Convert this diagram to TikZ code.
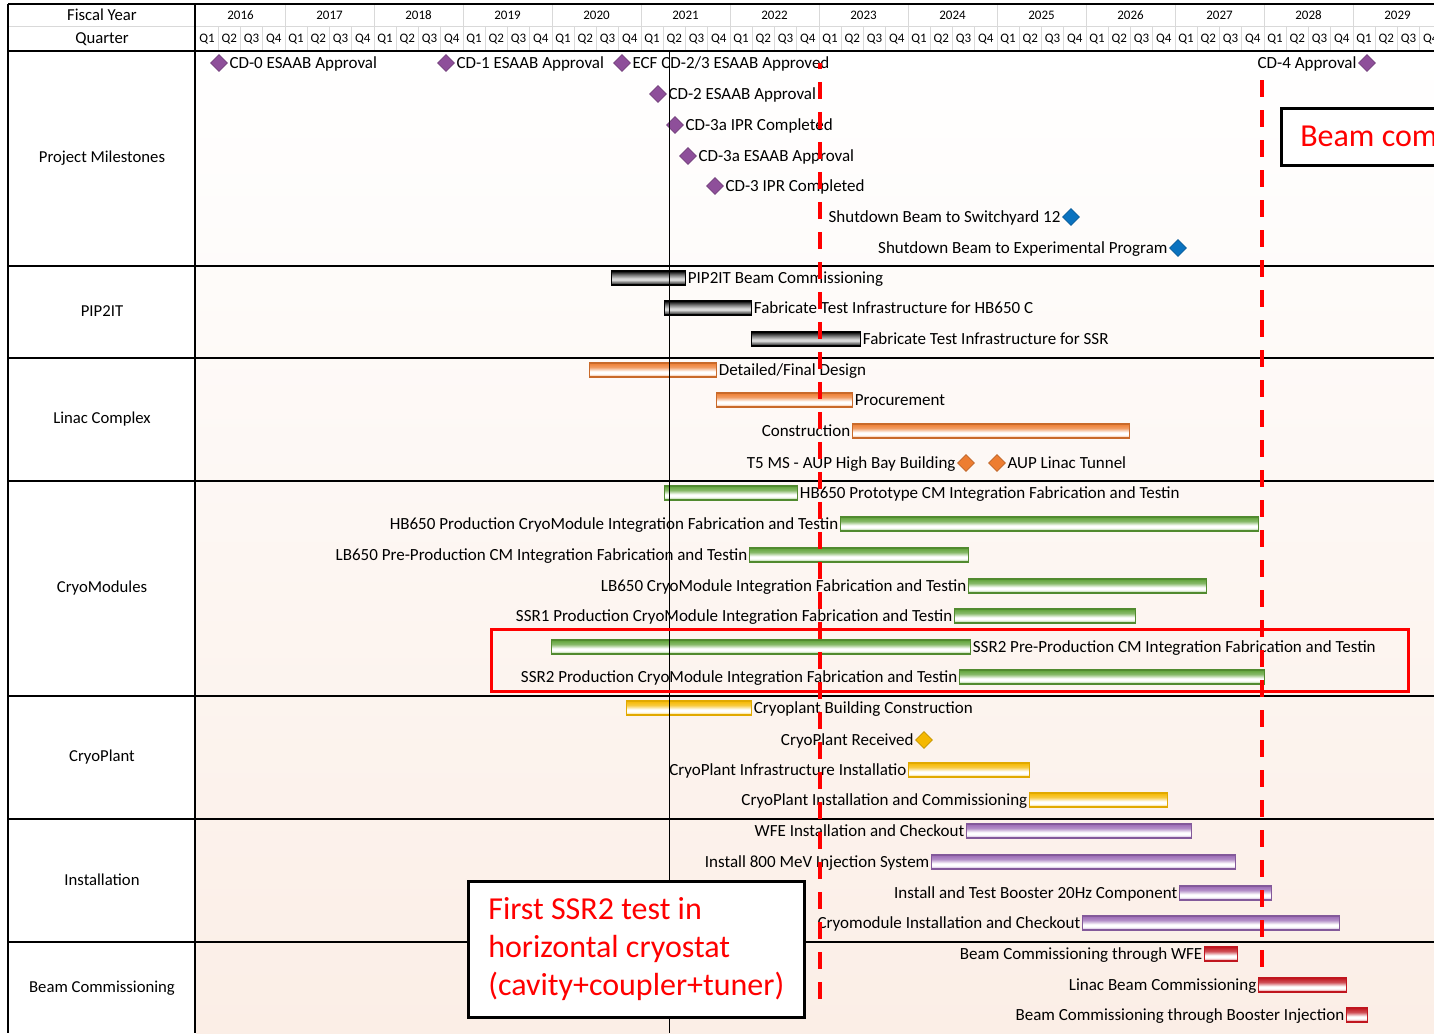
\documentclass[tikz,border=0pt]{standalone}
\usepackage{fontspec}
\setmainfont{Carlito}
\usetikzlibrary{shapes.geometric}
\definecolor{msPurple}{HTML}{8E4F9A}
\definecolor{msBlue}{HTML}{0A72BF}
\definecolor{cOrange}{HTML}{ED7D31}
\definecolor{cGreen}{HTML}{5FA237}
\definecolor{cGold}{HTML}{F5B800}
\definecolor{cPurple}{HTML}{9A69B5}
\definecolor{cRed}{HTML}{C0151E}
\definecolor{gridGray}{HTML}{D9D9D9}
\definecolor{bgPeach}{HTML}{FBEEE6}
\newcommand\mkshade[2]{\pgfdeclareverticalshading{#1}{100bp}{color(0bp)=(#2!65); color(25bp)=(#2!65); color(37bp)=(white); color(45bp)=(white); color(60bp)=(#2!75); color(75bp)=(#2); color(100bp)=(#2)}}
\mkshade{shOrange}{cOrange}
\mkshade{shGreen}{cGreen}
\mkshade{shGold}{cGold}
\mkshade{shPurple}{cPurple}
\mkshade{shRed}{cRed}
\pgfdeclareverticalshading{shBlack}{100bp}{color(0bp)=(black); color(25bp)=(black); color(33bp)=(black!60); color(44bp)=(white!88!black); color(50bp)=(white!80!black); color(62bp)=(black!55); color(75bp)=(black); color(100bp)=(black)}
\newcommand\barR[6]{\node[#2, minimum width={#4-#3}] (#1) at (#3,#5) {};\node[lblR] (#1-l) at (#1.east) {#6};}
\newcommand\barL[6]{\node[#2, minimum width={#4-#3}] (#1) at (#3,#5) {};\node[lblL] (#1-l) at (#1.west) {#6};}
\newcommand\msR[5]{\node[msd, fill=#2, draw=#2!80!black] (#1) at (#3,#4) {};\node[lblR] (#1-l) at (#1.east) {#5};}
\newcommand\msL[5]{\node[msd, fill=#2, draw=#2!80!black] (#1) at (#3,#4) {};\node[lblL] (#1-l) at (#1.west) {#5};}
\begin{document}
\begin{tikzpicture}[x=1pt,y=-1pt,
  lbl/.style={font=\fontsize{17}{20}\selectfont, inner xsep=1.5, inner ysep=0, text height=10.8, text depth=0},
  lblR/.style={lbl, anchor=west},
  lblL/.style={lbl, anchor=east},
  hdr/.style={font=\fontsize{13}{15}\selectfont, inner sep=0},
  sec/.style={font=\fontsize{16.7}{19}\selectfont, inner sep=0},
  gridline/.style={draw=gridGray, line width=1},
  blackline/.style={draw=black, line width=1.4},
  barbase/.style={minimum height=14, inner sep=0, anchor=west, line width=1.2, shade},
  blackbar/.style={barbase, draw=black, shading=shBlack},
  orangebar/.style={barbase, draw=cOrange!85!black, shading=shOrange},
  greenbar/.style={barbase, draw=cGreen!85!black, shading=shGreen},
  goldbar/.style={barbase, draw=cGold!92!black, shading=shGold},
  purplebar/.style={barbase, draw=cPurple!85!black, shading=shPurple},
  redbar/.style={barbase, draw=cRed, shading=shRed},
  msd/.style={shape=diamond, minimum width=17, minimum height=17, inner sep=0, aspect=1, line width=0.6},
  reddash/.style={draw=red, line width=3.6, dash pattern=on 17pt off 13pt},
  callout/.style={draw=black, fill=white, line width=2.6, text=red, font=\fontsize{32}{38}\selectfont}
]
\useasboundingbox (0,0) rectangle (1434,1033);
\fill[white] (0,0) rectangle (1434,1033);
% chart background
\fill[top color=white, bottom color=bgPeach] (196,51) rectangle (1434,1033);
% header grid
\draw[gridline] (8,27) -- (1434,27);
\foreach \i in {0,...,13} {
  \draw[gridline] ({196+89*(\i+1)},4) -- ({196+89*(\i+1)},51);
  \node[hdr] (yr\i) at ({196+89*\i+44.5},15) {\number\numexpr2016+\i\relax};
  \foreach \q in {1,...,4} {
    \draw[gridline] ({196+89*\i+22.25*\q},27) -- ({196+89*\i+22.25*\q},51);
    \node[hdr] (q\i-\q) at ({196+89*\i+22.25*\q-11.125},39) {Q\q};
  }
}
\node[sec] (hfy) at (102,15) {Fiscal Year};
\node[sec] (hq) at (102,39) {Quarter};
% frame lines
\draw[blackline] (8,4) -- (1434,4);
\draw[blackline] (8,4) -- (8,1033);
\draw[blackline] (195,4) -- (195,1033);
\foreach \yy in {51,266,358,481,696,819,942} {\draw[blackline] (8,\yy) -- (1434,\yy);}
% section labels
\node[sec] (s1) at (102,158) {Project Milestones};
\node[sec] (s2) at (102,311) {PIP2IT};
\node[sec] (s3) at (102,419) {Linac Complex};
\node[sec] (s4) at (102,588) {CryoModules};
\node[sec] (s5) at (102,757) {CryoPlant};
\node[sec] (s6) at (102,880) {Installation};
\node[sec] (s7) at (102,988) {Beam Commissioning};
% milestones
\msR{m0}{msPurple}{219}{63}{CD-0 ESAAB Approval}
\msR{m1}{msPurple}{446}{63}{CD-1 ESAAB Approval}
\msR{m2}{msPurple}{622}{63}{ECF CD-2/3 ESAAB Approved}
\msR{m3}{msPurple}{658}{94}{CD-2 ESAAB Approval}
\msR{m4}{msPurple}{675}{125}{CD-3a IPR Completed}
\msR{m5}{msPurple}{688}{156}{CD-3a ESAAB Approval}
\msR{m6}{msPurple}{715}{186}{CD-3 IPR Completed}
\msL{m7}{msBlue}{1071}{217}{Shutdown Beam to Switchyard 12}
\msL{m8}{msBlue}{1178}{248}{Shutdown Beam to Experimental Program}
\msL{m9}{msPurple}{1367}{63}{CD-4 Approval}
% PIP2IT
\barR{p1}{blackbar}{611}{685}{278}{PIP2IT Beam Commissioning}
\barR{p2}{blackbar}{664}{751}{308}{Fabricate Test Infrastructure for HB650 C}
\barR{p3}{blackbar}{751}{860}{339}{Fabricate Test Infrastructure for SSR}
% Linac Complex
\barR{l1}{orangebar}{589}{716}{370}{Detailed/Final Design}
\barR{l2}{orangebar}{716}{852}{400}{Procurement}
\barL{l3}{orangebar}{852}{1129}{431}{Construction}
\msL{l4}{cOrange}{966}{463}{T5 MS - AUP High Bay Building}
\msR{l5}{cOrange}{997}{463}{AUP Linac Tunnel}
% CryoModules
\barR{c1}{greenbar}{664}{797}{493}{HB650 Prototype CM Integration Fabrication and Testin}
\barL{c2}{greenbar}{840}{1258}{524}{HB650 Production CryoModule Integration Fabrication and Testin}
\barL{c3}{greenbar}{749}{968}{555}{LB650 Pre-Production CM Integration Fabrication and Testin}
\barL{c4}{greenbar}{968}{1206}{586}{LB650 CryoModule Integration Fabrication and Testin}
\barL{c5}{greenbar}{954}{1135}{616}{SSR1 Production CryoModule Integration Fabrication and Testin}
\barR{c6}{greenbar}{551}{970}{647}{SSR2 Pre-Production CM Integration Fabrication and Testin}
\barL{c7}{greenbar}{959}{1264}{677}{SSR2 Production CryoModule Integration Fabrication and Testin}
% CryoPlant
\barR{k1}{goldbar}{626}{751}{708}{Cryoplant Building Construction}
\msL{k2}{cGold}{924}{740}{CryoPlant Received}
\barL{k3}{goldbar}{908}{1029}{770}{CryoPlant Infrastructure Installatio}
\barL{k4}{goldbar}{1029}{1167}{800}{CryoPlant Installation and Commissioning}
% Installation
\barL{i1}{purplebar}{966}{1191}{831}{WFE Installation and Checkout}
\barL{i2}{purplebar}{931}{1235}{862}{Install 800 MeV Injection System}
\barL{i3}{purplebar}{1179}{1271}{893}{Install and Test Booster 20Hz Component}
\barL{i4}{purplebar}{1082}{1339}{923}{Cryomodule Installation and Checkout}
% Beam Commissioning
\barL{b1}{redbar}{1204}{1237}{954}{Beam Commissioning through WFE}
\barL{b2}{redbar}{1258}{1346}{985}{Linac Beam Commissioning}
\barL{b3}{redbar}{1346}{1367}{1015}{Beam Commissioning through Booster Injection}
% today line
\coordinate (t0) at (669,51);
\coordinate (t1) at (669,1033);
\draw[black, line width=0.9] (t0) -- (t1);
% red dashed markers
\coordinate (d1a) at (820,63);
\coordinate (d1b) at (820,1000);
\coordinate (d2a) at (1262,80);
\coordinate (d2b) at (1262,972);
\draw[reddash, dash phase=11pt] (d1a) -- (d1b);
\draw[reddash] (d2a) -- (d2b);
% highlight rectangle
\node[draw=red, line width=3, minimum width=917, minimum height=62, inner sep=0, anchor=north west] (hl) at (490,628) {};
% callouts
\node[callout, anchor=north west, minimum height=57, inner xsep=19, inner ysep=0] (cb1) at (1280,107) {Beam com};
\node[callout, anchor=north west, minimum width=336, minimum height=136, align=left, inner sep=0] (cb2) at (467,880) {First SSR2 test in\\horizontal cryostat\\(cavity+coupler+tuner)};
\end{tikzpicture}
\end{document}
